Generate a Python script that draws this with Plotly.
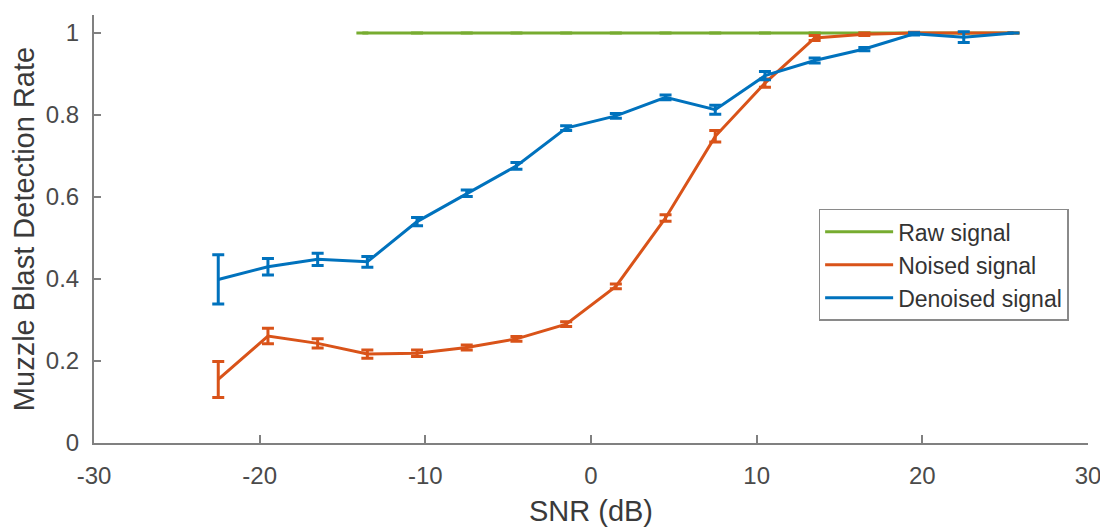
import plotly.graph_objects as go

snr = [-22.5, -19.5, -16.5, -13.5, -10.5, -7.5, -4.5, -1.5, 1.5, 4.5, 7.5, 10.5, 13.5, 16.5, 19.5, 22.5, 25.5]

raw_snr = [-13.8, -10.5, -7.5, -4.5, -1.5, 1.5, 4.5, 7.5, 10.5, 13.5, 16.5, 19.5, 22.5, 25.5]
raw_rate = [1.0] * len(raw_snr)
raw_err = [0.0] * len(raw_snr)

noised_rate = [0.155, 0.261, 0.243, 0.217, 0.219, 0.233, 0.254, 0.290, 0.382, 0.549, 0.748, 0.878, 0.988, 0.997, 1.0, 1.0, 1.0]
noised_err = [0.044, 0.019, 0.011, 0.010, 0.008, 0.006, 0.006, 0.006, 0.006, 0.008, 0.014, 0.010, 0.006, 0.003, 0.002, 0.0, 0.0]

denoised_rate = [0.399, 0.430, 0.448, 0.442, 0.540, 0.609, 0.676, 0.768, 0.798, 0.843, 0.813, 0.896, 0.933, 0.961, 0.998, 0.990, 1.0]
denoised_err = [0.060, 0.020, 0.015, 0.013, 0.010, 0.008, 0.008, 0.006, 0.006, 0.006, 0.011, 0.010, 0.006, 0.004, 0.003, 0.013, 0.0]

x_ticks = [-30, -20, -10, 0, 10, 20, 30]
x_ticktext = ["-30", "-20", "-10", "0", "10", "20", "30"]
y_ticks = [0, 0.2, 0.4, 0.6, 0.8, 1]
y_ticktext = ["0", "0.2", "0.4", "0.6", "0.8", "1"]

names = ["Raw signal", "Noised signal", "Denoised signal"]
colors = ["#77AC30", "#D95319", "#0072BD"]

fig = go.Figure()
series = [(raw_snr, raw_rate, raw_err), (snr, noised_rate, noised_err), (snr, denoised_rate, denoised_err)]
for (x, y, e), n, c in zip(series, names, colors):
    fig.add_trace(go.Scatter(
        x=x, y=y, name=n, mode="lines",
        line=dict(color=c, width=3),
        error_y=dict(type="data", array=e, visible=True, color=c, thickness=3, width=6),
    ))

FAM = "Liberation Sans, Arial, Helvetica, sans-serif"
tick_font = dict(family=FAM, size=24, color="#4a4a4a")
title_font = dict(family=FAM, size=29, color="#3a3a3a")
# the page body has an 8px default margin, so the figure is 8px smaller
fig.update_layout(
    width=1100, height=519,
    margin=dict(l=86, r=20, t=7, b=84),
    plot_bgcolor="white", paper_bgcolor="white",
    font=tick_font,
    showlegend=True,
    legend=dict(
        x=0.729, y=0.547, xanchor="left", yanchor="top",
        bordercolor="#8a8a8a", borderwidth=1.5, bgcolor="white",
        font=dict(family=FAM, size=23, color="#333333"),
        tracegroupgap=0, itemwidth=68,
    ),
    xaxis=dict(
        range=[-30, 30], tickvals=x_ticks, ticktext=x_ticktext,
        ticks="inside", ticklen=8, tickwidth=1.5, tickcolor="#808080",
        showline=True, linecolor="#808080", linewidth=2,
        showgrid=False, zeroline=False, automargin=False,
        ticklabelstandoff=10,
        title=dict(text="SNR (dB)", font=title_font, standoff=14),
        tickfont=tick_font,
    ),
    yaxis=dict(
        range=[0, 1.044], tickvals=y_ticks, ticktext=y_ticktext,
        ticks="inside", ticklen=7, tickwidth=1.5, tickcolor="#808080",
        showline=True, linecolor="#808080", linewidth=2,
        showgrid=False, zeroline=False, automargin=False,
        ticklabelstandoff=8,
        title=dict(text="Muzzle Blast Detection Rate", font=title_font, standoff=16),
        tickfont=tick_font,
    ),
)

fig.write_html("out.html")
